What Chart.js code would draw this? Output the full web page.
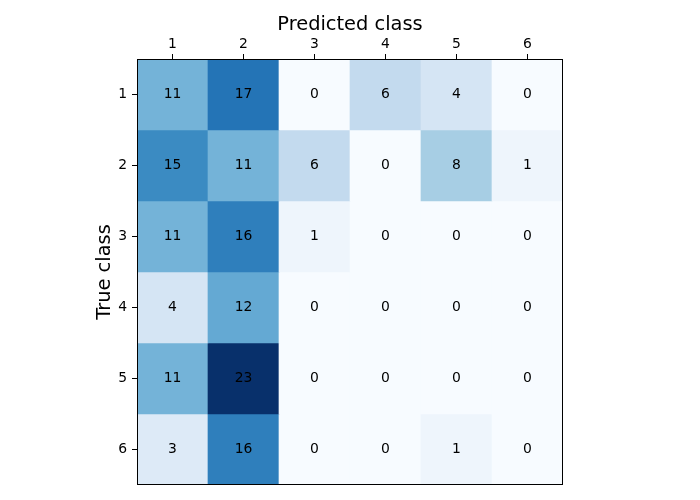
<!DOCTYPE html>
<html lang="en">
<head>
    <meta charset="UTF-8">
    <title>Confusion Matrix</title>
    <script src="https://cdn.jsdelivr.net/npm/chart.js@4.4.1/dist/chart.umd.min.js"></script>
    <style>
        body {
            margin: 0;
            background: white;
        }
        #chartContainer {
            width: 700px;
            height: 500px;
        }
    </style>
</head>
<body>
    <div id="chartContainer">
        <canvas id="myChart" width="700" height="500"></canvas>
    </div>

    <script>
        const predictedLabels = ['1', '2', '3', '4', '5', '6'];
        const trueLabels = ['1', '2', '3', '4', '5', '6'];

        // counts, one array per true class
        const row1 = [11, 17, 0, 6, 4, 0];
        const row2 = [15, 11, 6, 0, 8, 1];
        const row3 = [11, 16, 1, 0, 0, 0];
        const row4 = [4, 12, 0, 0, 0, 0];
        const row5 = [11, 23, 0, 0, 0, 0];
        const row6 = [3, 16, 0, 0, 1, 0];
        const rows = [row1, row2, row3, row4, row5, row6];

        const maxCount = Math.max(...rows.flat());
        const minCount = Math.min(...rows.flat());

        // matplotlib "Blues" colormap stops
        const blues = ['#f7fbff', '#deebf7', '#c6dbef', '#9ecae1', '#6baed6',
                       '#4292c6', '#2171b5', '#08519c', '#08306b'];

        function hexToRgb(h) {
            return [1, 3, 5].map(i => parseInt(h.slice(i, i + 2), 16));
        }

        function bluesColor(v) {
            let t = (v - minCount) / (maxCount - minCount);
            t = Math.max(0, Math.min(1, t));
            const pos = t * (blues.length - 1);
            const i = Math.min(Math.floor(pos), blues.length - 2);
            const f = pos - i;
            const a = hexToRgb(blues[i]);
            const b = hexToRgb(blues[i + 1]);
            const c = a.map((x, k) => Math.round(x + (b[k] - x) * f));
            return `rgb(${c[0]}, ${c[1]}, ${c[2]})`;
        }

        const fontFamily = '"DejaVu Sans", sans-serif';

        const datasets = rows.map((row, i) => ({
            label: 'True ' + trueLabels[i],
            data: row.map((_, j) => ({ x: predictedLabels[j], y: [i + 0.5, i + 1.5], count: row[j] })),
            backgroundColor: row.map(v => bluesColor(v)),
            borderWidth: 0,
            barPercentage: 1,
            categoryPercentage: 1,
            grouped: false
        }));

        const cellText = {
            id: 'cellText',
            afterDatasetsDraw(chart) {
                const ctx = chart.ctx;
                ctx.save();
                ctx.fillStyle = 'black';
                ctx.font = '13.9px ' + fontFamily;
                ctx.textAlign = 'center';
                ctx.textBaseline = 'middle';
                chart.data.datasets.forEach((ds, i) => {
                    const meta = chart.getDatasetMeta(i);
                    meta.data.forEach((bar, j) => {
                        const p = bar.getProps(['x', 'y', 'base'], true);
                        ctx.fillText(String(ds.data[j].count), p.x, (p.y + p.base) / 2);
                    });
                });
                // frame drawn on top like matplotlib spines
                const a = chart.chartArea;
                ctx.strokeStyle = 'black';
                ctx.lineWidth = 1;
                ctx.strokeRect(Math.round(a.left) + 0.5, Math.round(a.top) + 0.5,
                               Math.round(a.right - a.left) - 1, Math.round(a.bottom - a.top) - 1);
                ctx.restore();
            }
        };

        const ctx = document.getElementById('myChart').getContext('2d');
        const myChart = new Chart(ctx, {
            type: 'bar',
            data: {
                labels: predictedLabels,
                datasets: datasets
            },
            options: {
                responsive: false,
                animation: false,
                layout: {
                    padding: { left: 93, top: 13, right: 137, bottom: 15 }
                },
                plugins: {
                    legend: { display: false },
                    tooltip: { enabled: false }
                },
                scales: {
                    x: {
                        type: 'category',
                        position: 'top',
                        offset: true,
                        grid: {
                            drawOnChartArea: false,
                            drawTicks: true,
                            tickLength: 5,
                            tickColor: 'black',
                            offset: false
                        },
                        border: { display: false },
                        ticks: {
                            color: 'black',
                            padding: 1,
                            font: { family: fontFamily, size: 13.9 }
                        },
                        title: {
                            display: true,
                            text: 'Predicted class',
                            color: 'black',
                            padding: 0,
                            font: { family: fontFamily, size: 19.4 }
                        },
                        afterFit(scale) { scale.height = 46; }
                    },
                    y: {
                        type: 'linear',
                        reverse: true,
                        min: 0.5,
                        max: trueLabels.length + 0.5,
                        afterBuildTicks(scale) {
                            scale.ticks = trueLabels.map((_, i) => ({ value: i + 1 }));
                        },
                        grid: {
                            drawOnChartArea: false,
                            drawTicks: true,
                            tickLength: 5,
                            tickColor: 'black'
                        },
                        border: { display: false },
                        ticks: {
                            color: 'black',
                            padding: 5,
                            font: { family: fontFamily, size: 13.9 },
                            callback: (v) => trueLabels[v - 1]
                        },
                        title: {
                            display: true,
                            text: 'True class',
                            color: 'black',
                            padding: 0,
                            font: { family: fontFamily, size: 19.4 }
                        },
                        afterFit(scale) { scale.width = 44; }
                    }
                }
            },
            plugins: [cellText]
        });
    </script>
</body>
</html>
